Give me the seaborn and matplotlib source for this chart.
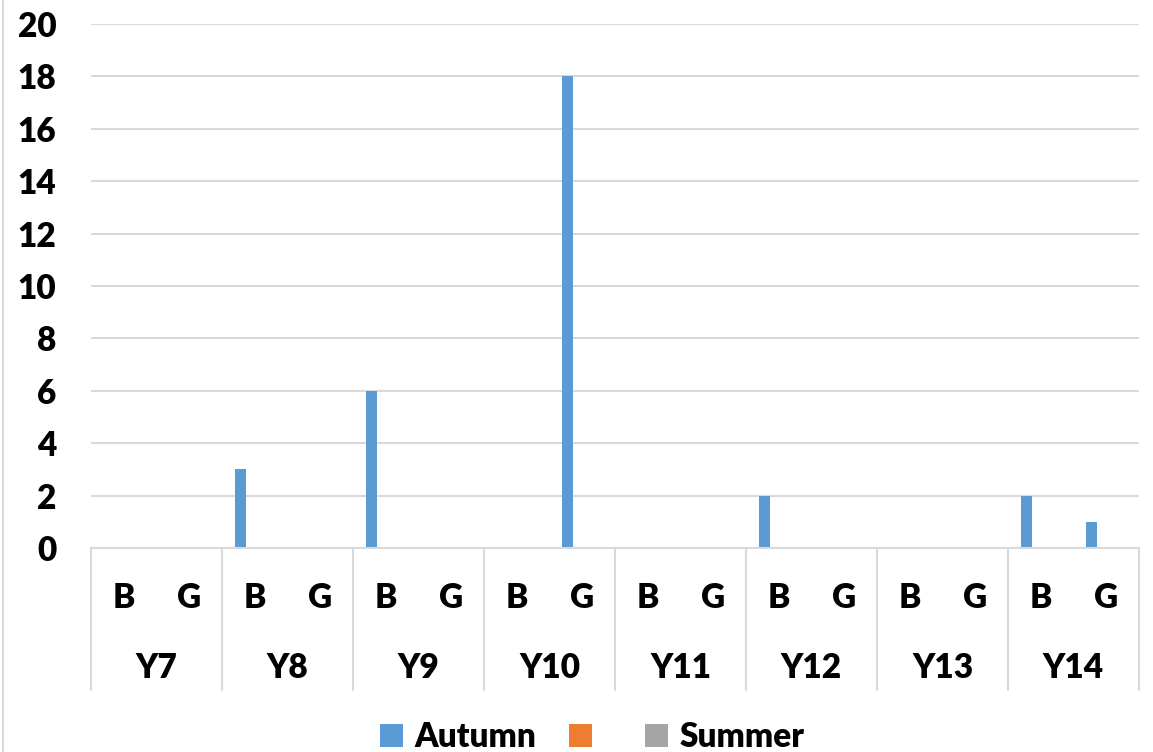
import matplotlib
matplotlib.use("Agg")
import matplotlib.pyplot as plt
import seaborn as sns
import pandas as pd
from matplotlib.lines import Line2D

years = ["Y7", "Y8", "Y9", "Y10", "Y11", "Y12", "Y13", "Y14"]
subs = ["B", "G"]
series_names = ["Autumn", " ", "Summer"]
autumn = [0, 0, 3, 0, 6, 0, 0, 18, 0, 0, 2, 0, 0, 0, 2, 1]
blank = [0] * 16
summer = [0] * 16
colors = ["#5B9BD5", "#ED7D31", "#A5A5A5"]

cats = [f"{y} {s}" for y in years for s in subs]
rows = []
for name, vals in zip(series_names, [autumn, blank, summer]):
    for c, v in zip(cats, vals):
        rows.append({"cat": c, "series": name, "value": v})
df = pd.DataFrame(rows)

sns.set_theme(style="white")
plt.rcParams["font.family"] = ["Lato", "DejaVu Sans"]

FS = 24
WT = "heavy"

W, H = 1153, 752
fig = plt.figure(figsize=(W / 100, H / 100), dpi=100)
ax = fig.add_axes([91 / W, 1 - 548 / H, (1139 - 91) / W, (548 - 24) / H])

sns.barplot(data=df, x="cat", y="value", hue="series", order=cats,
            hue_order=series_names, palette=colors, saturation=1,
            width=0.664, gap=0.24, linewidth=0, ax=ax, legend=True)

ax.set_xlim(-0.5, len(cats) - 0.5)
ax.set_ylim(0, 20)
ax.set_yticks(range(0, 21, 2))
ax.tick_params(axis="y", labelsize=FS, length=0, pad=25, labelcolor="black")
for t in ax.get_yticklabels():
    t.set_fontweight(WT)
ax.set_xticks([])
ax.set_xlabel("")
ax.set_ylabel("")
ax.grid(axis="y", color="#D9D9D9", linewidth=1.5)
ax.set_axisbelow(True)
for s in ["top", "right", "left"]:
    ax.spines[s].set_visible(False)
ax.spines["bottom"].set_color("#D9D9D9")
ax.spines["bottom"].set_linewidth(1.5)

trans = ax.get_xaxis_transform()
sep_bottom = -(690 - 548) / 524
for k in range(len(years) + 1):
    x = -0.5 + 2 * k
    ax.add_line(Line2D([x, x], [0, sep_bottom], transform=trans, color="#D9D9D9",
                       linewidth=1.5, clip_on=False))
for i, c in enumerate(cats):
    ax.text(i, -(598 - 548) / 524, c.split()[1], transform=trans, ha="center",
            va="center", fontsize=FS, fontweight=WT, color="black")
for j, y in enumerate(years):
    ax.text(2 * j + 0.5, -(668 - 548) / 524, y, transform=trans, ha="center",
            va="center", fontsize=FS, fontweight=WT, color="black")

# outer chart border on the left
fig.add_artist(Line2D([3 / W, 3 / W], [0, 1], transform=fig.transFigure,
                      color="#D9D9D9", linewidth=1.5))

handles, labels = ax.get_legend_handles_labels()
leg = ax.legend(handles, labels, loc="center", bbox_to_anchor=(592 / W, 1 - 737 / H),
                bbox_transform=fig.transFigure, ncol=3, frameon=False,
                handlelength=0.68, handleheight=0.68, handletextpad=0.35,
                columnspacing=1.0, prop={"size": FS, "weight": WT})
for t in leg.get_texts():
    t.set_color("black")

fig.savefig("out.png", dpi=100)
